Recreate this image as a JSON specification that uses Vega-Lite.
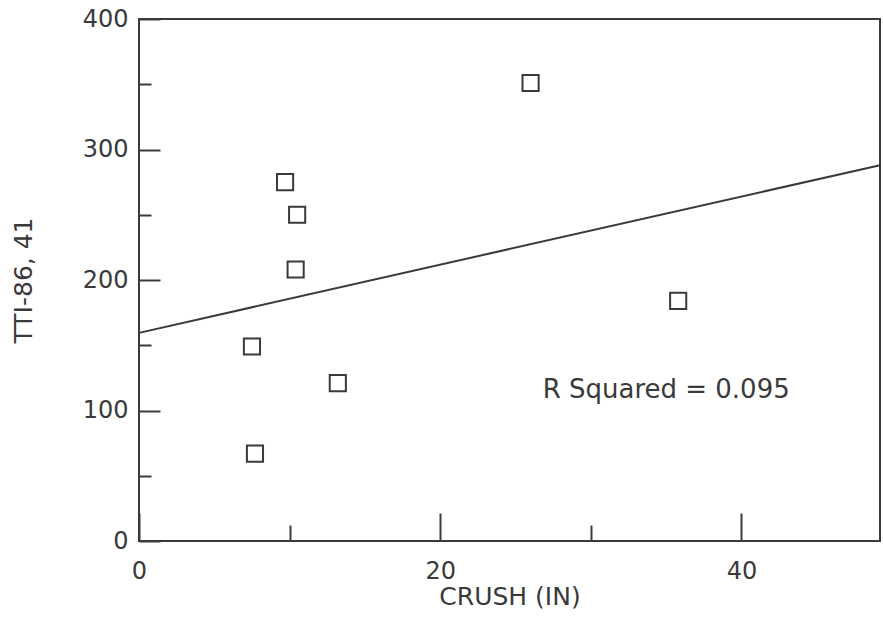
{
  "$schema": "https://vega.github.io/schema/vega-lite/v6.json",
  "width": 741,
  "height": 522,
  "autosize": "none",
  "padding": {"left": 139, "top": 19, "right": 3, "bottom": 91},
  "background": "white",
  "config": {
    "view": {"stroke": "#3a3a3a", "strokeWidth": 2},
    "font": "DejaVu Sans"
  },
  "datasets": {
    "points": [
      {"crush": 9.7, "tti": 275},
      {"crush": 10.5, "tti": 250},
      {"crush": 10.4, "tti": 208},
      {"crush": 7.5, "tti": 149},
      {"crush": 13.2, "tti": 121},
      {"crush": 7.7, "tti": 67},
      {"crush": 26.0, "tti": 351},
      {"crush": 35.8, "tti": 184}
    ],
    "fit": [
      {"crush": 0, "tti": 159.5},
      {"crush": 49.2, "tti": 288}
    ],
    "note": [
      {"crush": 26.8, "tti": 116, "label": "R Squared = 0.095"}
    ]
  },
  "layer": [
    {
      "data": {"name": "fit"},
      "mark": {"type": "line", "color": "#3a3a3a", "strokeWidth": 2},
      "encoding": {
        "x": {
          "field": "crush",
          "type": "quantitative",
          "scale": {"domain": [0, 49.2], "nice": false, "zero": false},
          "axis": {
            "title": "CRUSH (IN)",
            "values": [0, 10, 20, 30, 40],
            "labelExpr": "datum.value % 20 === 0 ? datum.label : ''",
            "tickSize": {"condition": {"test": "datum.value % 20 === 0", "value": -28}, "value": -16},
            "tickColor": "#3a3a3a",
            "tickWidth": 2,
            "domain": false,
            "grid": false,
            "labelFont": "DejaVu Sans",
            "labelFontSize": 24,
            "labelColor": "#3a3a3a",
            "labelPadding": 46,
            "labelFlush": false,
            "titleFont": "DejaVu Sans",
            "titleFontSize": 25,
            "titleFontWeight": "normal",
            "titleColor": "#3a3a3a",
            "titlePadding": 1
          }
        },
        "y": {
          "field": "tti",
          "type": "quantitative",
          "scale": {"domain": [0, 400], "nice": false},
          "axis": {
            "title": "TTI-86,  41",
            "values": [0, 50, 100, 150, 200, 250, 300, 350, 400],
            "labelExpr": "datum.value % 100 === 0 ? datum.label : ''",
            "tickSize": {"condition": {"test": "datum.value % 100 === 0", "value": -21}, "value": -12},
            "tickColor": "#3a3a3a",
            "tickWidth": 2,
            "domain": false,
            "grid": false,
            "labelFont": "DejaVu Sans",
            "labelFontSize": 24,
            "labelColor": "#3a3a3a",
            "labelPadding": 32,
            "labelFlush": false,
            "titleFont": "DejaVu Sans",
            "titleFontSize": 25,
            "titleFontWeight": "normal",
            "titleColor": "#3a3a3a",
            "titlePadding": 46
          }
        }
      }
    },
    {
      "data": {"name": "points"},
      "mark": {"type": "point", "shape": "square", "filled": false, "size": 260, "stroke": "#3a3a3a", "strokeWidth": 2, "opacity": 1},
      "encoding": {
        "x": {"field": "crush", "type": "quantitative"},
        "y": {"field": "tti", "type": "quantitative"}
      }
    },
    {
      "data": {"name": "note"},
      "mark": {"type": "text", "align": "left", "baseline": "middle", "fontSize": 26, "color": "#3a3a3a", "font": "DejaVu Sans"},
      "encoding": {
        "x": {"field": "crush", "type": "quantitative"},
        "y": {"field": "tti", "type": "quantitative"},
        "text": {"field": "label"}
      }
    }
  ]
}
